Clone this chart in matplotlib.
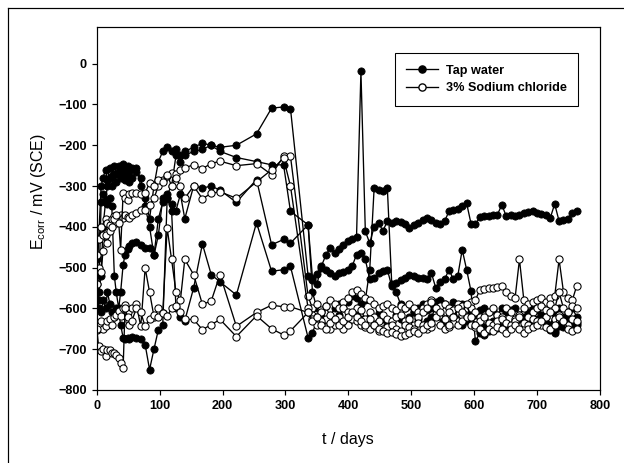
import matplotlib
matplotlib.use("Agg")
import matplotlib.pyplot as plt
from matplotlib.lines import Line2D

plt.rcParams['font.family'] = ['Liberation Sans', 'DejaVu Sans']

# sampling days (shared by all cells)
days_early = [0, 3, 7, 10, 14, 17, 21, 24, 28, 31,
              35, 38, 42, 45, 49, 52, 56, 63, 70, 77,
              84, 91, 98, 105, 112, 119, 126, 133, 140, 154,
              168, 182, 196, 222, 254, 278, 297, 308]
days_late = [336, 343, 350, 357, 364, 371, 378, 385, 392, 399,
             406, 413, 420, 427, 434, 441, 448, 455, 462, 469,
             476, 483, 490, 497, 504, 511, 518, 525, 532, 539,
             546, 553, 560, 567, 574, 581, 588, 595, 602, 609,
             616, 623, 630, 637, 644, 651, 658, 665, 672, 679,
             686, 693, 700, 707, 714, 721, 728, 735, 742, 749,
             756, 763]

# tap water cells (mV vs SCE)
tap1_early = [-560, -430, -300, -280, -260, -285, -255, -275, -250, -270,
              -250, -265, -245, -270, -250, -265, -255, -255, -300, -330,
              -380, -300, -240, -215, -205, -215, -210, -225, -215, -205,
              -195, -200, -205, -200, -172, -109, -106, -110]
tap1_late = [-520, -530, -515, -497, -470, -452, -465, -455, -445, -435,
             -430, -425, -19, -411, -440, -400, -390, -410, -386, -390,
             -386, -388, -392, -403, -395, -390, -382, -378, -384, -390,
             -392, -386, -362, -358, -356, -350, -342, -392, -394, -376,
             -374, -374, -372, -370, -346, -374, -372, -374, -370, -366,
             -364, -362, -366, -368, -372, -378, -344, -386, -384, -380,
             -366, -360]

tap2_early = [-600, -580, -340, -320, -335, -300, -280, -300, -270, -290,
              -265, -280, -260, -285, -275, -290, -280, -265, -280, -350,
              -400, -470, -420, -330, -320, -300, -225, -240, -225, -215,
              -210, -200, -215, -230, -240, -248, -248, -362]
tap2_late = [-395, -525, -540, -500, -505, -513, -520, -513, -510, -505,
             -497, -468, -464, -480, -529, -525, -513, -508, -505, -546,
             -538, -530, -525, -517, -521, -525, -525, -529, -513, -550,
             -535, -529, -505, -529, -520, -456, -505, -558, -681, -660,
             -665, -655, -652, -648, -645, -635, -640, -630, -627, -632,
             -628, -630, -627, -635, -640, -652, -660, -643, -645, -640,
             -638, -635]

tap3_early = [-480, -560, -520, -400, -340, -345, -330, -350, -520, -560,
              -600, -560, -493, -468, -455, -446, -440, -436, -445, -452,
              -452, -470, -380, -340, -330, -345, -360, -320, -380, -300,
              -305, -300, -310, -340, -284, -444, -431, -440]
tap3_late = [-395, -560, -600, -610, -595, -619, -600, -590, -600, -585,
             -570, -575, -590, -580, -505, -305, -310, -312, -305, -540,
             -560, -590, -600, -595, -610, -600, -590, -605, -600, -585,
             -580, -590, -600, -585, -600, -590, -600, -610, -615, -605,
             -600, -610, -605, -615, -600, -610, -605, -600, -615, -620,
             -610, -600, -605, -615, -620, -640, -610, -600, -620, -610,
             -600, -620]

tap4_early = [-540, -600, -610, -580, -600, -560, -590, -610, -620, -600,
              -610, -640, -672, -676, -672, -676, -670, -672, -675, -689,
              -750, -700, -652, -640, -330, -360, -600, -620, -630, -550,
              -442, -517, -535, -567, -390, -509, -505, -497]
tap4_late = [-672, -660, -630, -620, -640, -630, -625, -615, -640, -635,
             -620, -610, -625, -640, -620, -630, -612, -625, -640, -630,
             -615, -625, -635, -620, -610, -625, -640, -630, -620, -600,
             -625, -635, -640, -615, -625, -640, -630, -620, -640, -655,
             -645, -640, -630, -635, -625, -640, -645, -635, -620, -630,
             -640, -625, -630, -620, -635, -650, -655, -640, -630, -625,
             -645, -640]

# 3% NaCl cells
nacl1_early = [-470, -430, -400, -420, -380, -390, -395, -380, -374, -390,
               -382, -370, -378, -370, -375, -378, -370, -365, -358, -358,
               -346, -330, -300, -285, -275, -268, -270, -260, -255, -248,
               -257, -245, -239, -250, -245, -272, -227, -227]
nacl1_late = [-570, -600, -590, -605, -595, -580, -590, -600, -585, -575,
              -560, -555, -565, -575, -580, -590, -600, -595, -590, -600,
              -605, -595, -600, -590, -600, -610, -600, -590, -580, -600,
              -595, -590, -600, -605, -590, -595, -600, -585, -580, -554,
              -552, -550, -550, -548, -546, -560, -570, -575, -480, -580,
              -590, -585, -580, -575, -585, -575, -570, -480, -560, -575,
              -580, -545]

nacl2_early = [-540, -500, -510, -460, -420, -440, -410, -400, -380, -370,
               -390, -456, -317, -330, -335, -320, -318, -317, -320, -317,
               -292, -300, -284, -290, -272, -300, -280, -300, -330, -300,
               -331, -318, -314, -330, -290, -260, -232, -300]
nacl2_late = [-600, -615, -620, -610, -625, -615, -630, -620, -600, -610,
              -615, -600, -605, -625, -610, -620, -630, -615, -625, -630,
              -620, -615, -630, -625, -640, -620, -610, -600, -585, -600,
              -615, -625, -610, -620, -630, -615, -620, -600, -610, -620,
              -625, -610, -600, -615, -620, -600, -610, -625, -615, -600,
              -620, -610, -600, -595, -605, -590, -600, -560, -600, -610,
              -595, -600]

nacl3_early = [-652, -640, -632, -650, -644, -630, -627, -640, -620, -615,
               -607, -619, -600, -591, -610, -632, -600, -590, -644, -501,
               -560, -620, -600, -611, -403, -480, -560, -580, -480, -517,
               -590, -582, -517, -644, -610, -592, -596, -596]
nacl3_late = [-610, -625, -640, -630, -645, -650, -640, -635, -650, -640,
              -625, -630, -640, -645, -650, -640, -655, -650, -645, -640,
              -650, -655, -640, -645, -650, -635, -640, -650, -645, -630,
              -640, -650, -645, -635, -640, -630, -620, -640, -645, -630,
              -620, -635, -640, -630, -625, -635, -640, -630, -620, -635,
              -640, -625, -630, -640, -620, -610, -625, -615, -630, -640,
              -625, -630]

nacl4_early = [-650, -693, -705, -700, -717, -701, -701, -709, -709, -715,
               -721, -735, -746, -600, -620, -640, -630, -600, -610, -644,
               -627, -615, -620, -611, -619, -600, -595, -610, -627, -627,
               -652, -640, -627, -669, -618, -650, -665, -655]
nacl4_late = [-610, -630, -620, -640, -650, -635, -625, -640, -630, -620,
              -610, -620, -630, -640, -625, -640, -650, -655, -660, -659,
              -662, -667, -665, -660, -655, -660, -650, -640, -635, -620,
              -610, -625, -640, -620, -600, -610, -590, -620, -640, -650,
              -660, -650, -655, -645, -650, -660, -650, -640, -650, -660,
              -650, -645, -640, -630, -645, -650, -640, -620, -630, -650,
              -655, -650]

tap_cells = [(tap1_early, tap1_late), (tap2_early, tap2_late),
             (tap3_early, tap3_late), (tap4_early, tap4_late)]
nacl_cells = [(nacl1_early, nacl1_late), (nacl2_early, nacl2_late),
              (nacl3_early, nacl3_late), (nacl4_early, nacl4_late)]

days = days_early + days_late

fig = plt.figure(figsize=(6.5, 463 / 96), dpi=96)
ax = fig.add_axes([0.155, 0.1577, 0.8065, 0.784])

ms = 5.4
for early, late in tap_cells:
    ax.plot(days, early + late, '-o', color='black', lw=1.0, ms=ms,
            mfc='black', mec='black', mew=0.6)
for early, late in nacl_cells:
    ax.plot(days, early + late, '-o', color='black', lw=1.0, ms=ms,
            mfc='white', mec='black', mew=0.8)

ax.set_xlim(0, 800)
ax.set_ylim(-800, 90)
ax.set_xticks(range(0, 801, 100))
ax.set_yticks(range(-800, 1, 100))
ax.tick_params(direction='out', length=3.5, width=0.9, labelsize=9.5, pad=4)
for lab in ax.get_xticklabels() + ax.get_yticklabels():
    lab.set_fontweight('bold')
for sp in ax.spines.values():
    sp.set_linewidth(0.9)

ax.set_xlabel('t / days', fontsize=12)
ax.set_ylabel(r'E$_\mathregular{corr}$ / mV (SCE)', fontsize=12)
ax.xaxis.set_label_coords(0.5, -0.116)
ax.yaxis.set_label_coords(-0.097, 0.548)

handles = [Line2D([], [], color='black', lw=1.0, marker='o', ms=ms, mfc='black', mec='black'),
           Line2D([], [], color='black', lw=1.0, marker='o', ms=ms, mfc='white', mec='black')]
leg = ax.legend(handles, ['Tap water', '3% Sodium chloride'],
                loc='upper right', bbox_to_anchor=(0.956, 0.928), borderaxespad=0,
                fancybox=False, framealpha=1, edgecolor='black',
                prop={'weight': 'bold', 'size': 9.5}, handlelength=2.5,
                handletextpad=0.6, borderpad=0.9, labelspacing=0.45)
leg.get_frame().set_linewidth(0.8)

# outer border of the scanned figure
fig.add_artist(Line2D([8 / 624, 8 / 624], [0, 1 - 8 / 463], color='black', lw=0.9,
                      transform=fig.transFigure))
fig.add_artist(Line2D([8 / 624, 1], [1 - 8 / 463, 1 - 8 / 463], color='black', lw=0.9,
                      transform=fig.transFigure))

fig.savefig('out.png', dpi=96)
